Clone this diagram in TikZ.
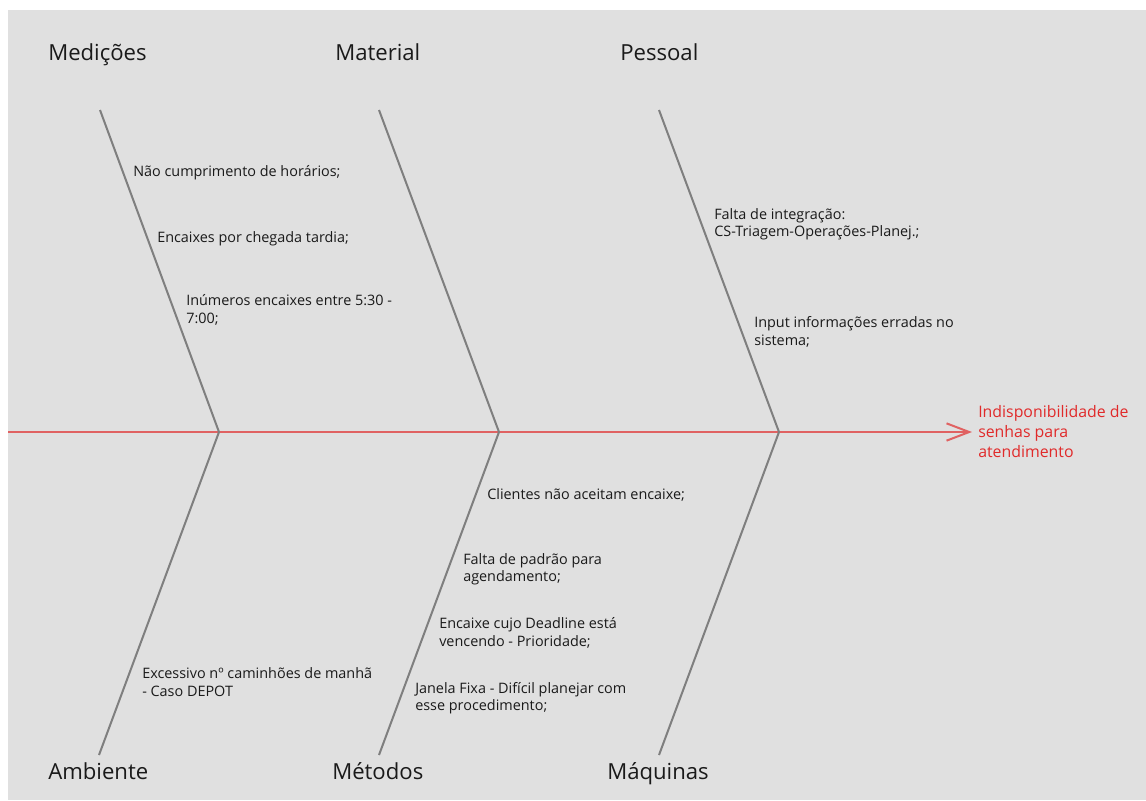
\documentclass[tikz,border=0pt]{standalone}
\usepackage{fontspec}
\setmainfont{Open Sans}
\usetikzlibrary{arrows.meta}
\definecolor{panel}{HTML}{E0E0E0}
\definecolor{bone}{HTML}{7F7F7F}
\definecolor{spine}{HTML}{E06262}
\definecolor{effect}{HTML}{E02A2A}
\definecolor{ink}{HTML}{1A1A1A}
\begin{document}
\begin{tikzpicture}[x=0.75pt,y=-0.75pt,
  category/.style={anchor=base west,inner sep=0pt,text=ink,font=\fontsize{16.6pt}{19pt}\selectfont},
  cause/.style={anchor=west,inner sep=0pt,align=left,text=ink,font=\fontsize{10.8pt}{13.1pt}\selectfont},
  effecttext/.style={anchor=west,inner sep=0pt,align=left,text=effect,font=\fontsize{11.9pt}{15pt}\selectfont},
  bonestyle/.style={draw=bone,line width=1.5pt},
  spinestyle/.style={draw=spine,line width=1.5pt,-{Straight Barb[length=17pt,width=13pt,line width=1.5pt]}}]
% canvas
\useasboundingbox (0,0) rectangle (1146,800);
\fill[white] (0,0) rectangle (1146,800);
\fill[panel] (8,10) rectangle (1146,800);

% spine and joints
\coordinate (tailend) at (8,432);
\coordinate (head) at (972,432);
\coordinate (j1) at (219,432);
\coordinate (j2) at (499,432);
\coordinate (j3) at (779,432);
\coordinate (u1) at (100,110);
\coordinate (u2) at (379,110);
\coordinate (u3) at (659,110);
\coordinate (l1) at (99,755);
\coordinate (l2) at (379,755);
\coordinate (l3) at (659,755);

\draw[spinestyle] (tailend) -- (head);
\foreach \a/\b in {u1/j1,u2/j2,u3/j3,l1/j1,l2/j2,l3/j3}
  \draw[bonestyle] (\a) -- (\b);

% effect
\node[effecttext] (effect) at (978,432) {Indisponibilidade de\\senhas para\\atendimento};

% categories
\node[category] (med) at (48,60) {Medições};
\node[category] (mat) at (335,60) {Material};
\node[category] (pes) at (620,60) {Pessoal};
\node[category] (amb) at (48,779) {Ambiente};
\node[category] (met) at (332,779) {Métodos};
\node[category] (maq) at (607,779) {Máquinas};

% causes
\node[cause] (c1) at (133,173) {Não cumprimento de horários;};
\node[cause] (c2) at (157,239) {Encaixes por chegada tardia;};
\node[cause] (c3) at (186,310) {Inúmeros encaixes entre 5:30 -\\7:00;};
\node[cause] (c4) at (714,224) {Falta de integração:\\CS-Triagem-Operações-Planej.;};
\node[cause] (c5) at (754,332) {Input informações erradas no\\sistema;};
\node[cause] (c6) at (487,495) {Clientes não aceitam encaixe;};
\node[cause] (c7) at (463,569) {Falta de padrão para\\agendamento;};
\node[cause] (c8) at (439,633) {Encaixe cujo Deadline está\\vencendo - Prioridade;};
\node[cause] (c9) at (415,698) {Janela Fixa - Difícil planejar com\\esse procedimento;};
\node[cause] (c10) at (142,682) {Excessivo nº caminhões de manhã\\- Caso DEPOT};
\end{tikzpicture}
\end{document}
